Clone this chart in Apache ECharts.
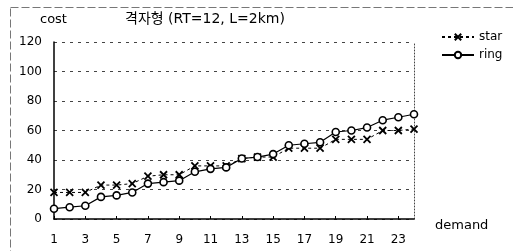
<!DOCTYPE html>
<html>
<head>
<meta charset="utf-8">
<script src="https://cdn.jsdelivr.net/npm/echarts@6/dist/echarts.min.js"></script>
<style>
  html, body { margin: 0; padding: 0; background: #fff; }
  #main { width: 513px; height: 251px; }
</style>
</head>
<body>
<div id="main"></div>
<script>
// 수요(demand) 1..24
var demand = ['1','2','3','4','5','6','7','8','9','10','11','12','13','14','15','16','17','18','19','20','21','22','23','24'];
var starCost = [18, 18, 18, 23, 23, 24, 29, 30, 30, 36, 36, 36, 41, 42, 42, 48, 48, 48, 54, 54, 54, 60, 60, 61];
var ringCost = [7, 8, 9, 15, 16, 18, 24, 25, 26, 32, 34, 35, 41, 42, 44, 50, 51, 52, 59, 60, 62, 67, 69, 71];
var yTicks = [0, 20, 40, 60, 80, 100, 120];

var font = 'DejaVu Sans';
var myChart = echarts.init(document.getElementById('main'));

myChart.setOption({
    animation: false,
    backgroundColor: '#fff',
    title: [
        { text: 'cost', left: 35, top: 8, textStyle: { fontFamily: font, fontSize: 13, fontWeight: 'normal', color: '#000' } },
        { text: '격자형 (RT=12, L=2km)', left: 120, top: 7, textStyle: { fontFamily: font + ', Noto Sans CJK KR', fontSize: 14, fontWeight: 'normal', color: '#000' } }
    ],
    legend: {
        orient: 'vertical',
        left: 436,
        top: 26,
        itemWidth: 32,
        itemHeight: 8,
        itemGap: 6,
        textStyle: { fontFamily: font, fontSize: 12, color: '#000' },
        data: ['star', 'ring']
    },
    grid: { left: 54, right: 99, top: 42, bottom: 32 },
    xAxis: {
        type: 'category',
        data: demand,
        boundaryGap: false,
        name: 'demand',
        nameLocation: 'end',
        nameGap: 21,
        nameTextStyle: { fontFamily: font, fontSize: 13, color: '#000', verticalAlign: 'top' },
        axisLine: { lineStyle: { color: '#000', width: 1.5 } },
        axisTick: { inside: true, length: 3, lineStyle: { color: '#000' } },
        axisLabel: {
            interval: 1,
            margin: 15,
            fontFamily: font, fontSize: 12, color: '#000'
        },
        splitLine: { show: false }
    },
    yAxis: [{
        type: 'value',
        min: 0,
        max: 120,
        interval: 20,
        axisLine: { show: true, lineStyle: { color: '#000', width: 1.5 } },
        axisTick: { show: false },
        axisLabel: {
            margin: 12,
            fontFamily: font, fontSize: 12, color: '#000',
            formatter: function (v) { return yTicks.indexOf(v) >= 0 ? String(v) : ''; }
        },
        splitLine: { show: true, lineStyle: { color: '#444', type: [3, 5], width: 1 } }
    }, {
        type: 'value',
        min: 0,
        max: 120,
        interval: 20,
        position: 'right',
        axisLine: { show: true, lineStyle: { color: '#444', type: [1, 2], width: 1 } },
        axisTick: { show: false },
        axisLabel: { show: false },
        splitLine: { show: false }
    }],
    series: [
        {
            name: 'star',
            type: 'line',
            data: starCost,
            symbol: 'path://M0,0L10,10M10,0L0,10',
            symbolSize: 7,
            lineStyle: { color: '#000', width: 1, type: [3, 3] },
            itemStyle: { color: '#000', borderColor: '#000', borderWidth: 1.8 }
        },
        {
            name: 'ring',
            type: 'line',
            data: ringCost,
            symbol: 'circle',
            symbolSize: 7,
            lineStyle: { color: '#000', width: 1.2 },
            itemStyle: { color: '#fff', borderColor: '#000', borderWidth: 1.6 }
        }
    ],
    graphic: [{
        type: 'rect',
        shape: { x: 10.5, y: 7.5, width: 520, height: 260 },
        style: { fill: null, stroke: '#777', lineWidth: 1, lineDash: [8, 3] },
        silent: true
    }]
});
</script>
</body>
</html>
